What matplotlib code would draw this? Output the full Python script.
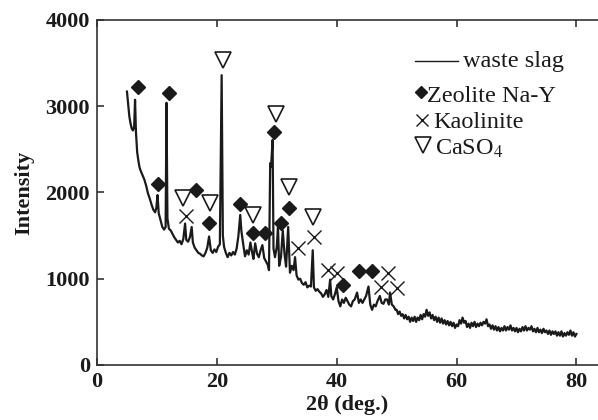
import matplotlib
matplotlib.use("Agg")
import matplotlib.pyplot as plt

plt.rcParams["font.family"] = ["Liberation Serif", "DejaVu Serif"]
plt.rcParams["mathtext.fontset"] = "stix"

# waste slag XRD trace (2theta, intensity)
theta_head = [5.0, 5.2, 5.4, 5.6, 5.8, 6.0, 6.2, 6.35, 6.5, 6.7, 6.9, 7.1, 7.3, 7.6, 7.9,
              8.2, 8.5, 8.8, 9.1, 9.4, 9.7, 9.9, 10.1, 10.3, 10.6, 10.9, 11.2, 11.45, 11.6,
              11.75, 12.0, 12.3, 12.6, 12.9, 13.2, 13.5, 13.8, 14.1, 14.4, 14.7, 14.9, 15.2,
              15.5, 15.8, 16.0, 16.3, 16.6, 16.9, 17.2, 17.5, 17.8, 18.1, 18.4, 18.7, 19.0,
              19.3, 19.6, 19.9, 20.2, 20.5, 20.8, 21.0, 21.2, 21.5, 21.8, 22.1, 22.4, 22.7,
              23.0, 23.3, 23.6, 23.9, 24.1, 24.4, 24.7, 25.0, 25.3, 25.6, 25.9, 26.1, 26.4,
              26.7, 27.0, 27.3, 27.6, 27.9, 28.2, 28.5, 28.7, 28.9, 29.05, 29.3, 29.45, 29.7,
              30.0, 30.2, 30.4, 30.7, 31.0, 31.3, 31.55, 31.9, 32.2, 32.5, 32.8, 33.05, 33.3,
              33.6, 33.9, 34.2, 34.5, 34.8, 35.1, 35.4, 35.7, 36.0, 36.2, 36.5, 36.8, 37.1,
              37.4, 37.7, 38.0, 38.3, 38.6, 38.9, 39.1, 39.4, 39.7, 40.0, 40.3, 40.6, 40.9,
              41.2, 41.5, 41.8, 42.1, 42.4, 42.7, 43.0, 43.4, 43.7, 44.0, 44.3, 44.6, 44.9,
              45.3, 45.6, 45.9, 46.2, 46.5, 46.8, 47.2, 47.5, 47.8, 48.1, 48.4, 48.7, 48.9,
              49.2, 49.5, 49.8]
counts_head = [3170, 3020, 2880, 2800, 2740, 2720, 2760, 3075, 2700, 2470, 2370, 2290, 2250, 2200, 2150,
               2080, 1990, 1930, 1860, 1800, 1770, 1820, 1970, 1760, 1680, 1600, 1570, 1600, 3040,
               1700, 1580, 1560, 1520, 1480, 1450, 1420, 1440, 1400, 1460, 1640, 1450, 1430,
               1480, 1600, 1420, 1360, 1330, 1300, 1290, 1270, 1260, 1300, 1360, 1490, 1330,
               1300, 1340, 1310, 1370, 1400, 3360, 1500, 1370, 1300, 1250, 1300, 1270, 1310,
               1280, 1350, 1500, 1740, 1550, 1400, 1260, 1330, 1280, 1420, 1300, 1230, 1410,
               1290, 1250, 1330, 1390, 1240, 1200, 1160, 1100, 2340, 2300, 2610, 1350, 1250,
               1370, 1600, 1150, 1250, 1560, 1280, 1140, 1600, 1070, 1150, 1100, 1250, 1040,
               990, 1000, 950, 930, 960, 900, 920, 910, 1330, 900, 860, 880, 850,
               830, 790, 820, 870, 790, 990, 800, 760, 820, 900, 740, 680, 760,
               720, 780, 740, 700, 680, 740, 760, 840, 720, 760, 720, 760, 800,
               910, 700, 640, 700, 680, 740, 800, 720, 710, 760, 760, 700, 840,
               700, 680, 640]

theta_tail = [50.0, 50.25, 50.5, 50.75, 51.0, 51.25, 51.5, 51.75, 52.0, 52.25, 52.5, 52.75,
              53.0, 53.25, 53.5, 53.75, 54.0, 54.25, 54.5, 54.75, 55.0, 55.25, 55.5, 55.75,
              56.0, 56.25, 56.5, 56.75, 57.0, 57.25, 57.5, 57.75, 58.0, 58.25, 58.5, 58.75,
              59.0, 59.25, 59.5, 59.75, 60.0, 60.25, 60.5, 60.75, 61.0, 61.25, 61.5, 61.75,
              62.0, 62.25, 62.5, 62.75, 63.0, 63.25, 63.5, 63.75, 64.0, 64.25, 64.5, 64.75,
              65.0, 65.25, 65.5, 65.75, 66.0, 66.25, 66.5, 66.75, 67.0, 67.25, 67.5, 67.75,
              68.0, 68.25, 68.5, 68.75, 69.0, 69.25, 69.5, 69.75, 70.0, 70.25, 70.5, 70.75,
              71.0, 71.25, 71.5, 71.75, 72.0, 72.25, 72.5, 72.75, 73.0, 73.25, 73.5, 73.75,
              74.0, 74.25, 74.5, 74.75, 75.0, 75.25, 75.5, 75.75, 76.0, 76.25, 76.5, 76.75,
              77.0, 77.25, 77.5, 77.75, 78.0, 78.25, 78.5, 78.75, 79.0, 79.25, 79.5, 79.75, 80.0]
counts_tail = [640, 590, 620, 570, 590, 540, 580, 530, 560, 500, 550, 510,
               560, 500, 550, 520, 580, 530, 590, 560, 640, 570, 610, 540,
               580, 520, 560, 500, 550, 490, 540, 480, 520, 470, 510, 460,
               500, 450, 490, 430, 470, 450, 520, 480, 550, 490, 510, 440,
               480, 430, 490, 450, 500, 440, 480, 450, 490, 460, 500, 480,
               530, 450, 470, 420, 460, 410, 450, 400, 440, 390, 430, 400,
               450, 400, 440, 410, 460, 400, 430, 390, 430, 380, 420, 390,
               440, 400, 450, 400, 430, 410, 450, 390, 420, 380, 430, 380,
               410, 370, 420, 380, 400, 360, 400, 350, 390, 360, 390, 340,
               380, 340, 390, 330, 370, 340, 380, 350, 400, 340, 380, 330, 360]

# phase markers
zeolite_x = [6.9, 10.1, 12.0, 16.5, 18.7, 23.9, 26.0, 28.1, 29.5, 30.7, 32.1, 41.1, 43.8, 45.9]
zeolite_y = [3220, 2095, 3150, 2029, 1650, 1867, 1534, 1534, 2705, 1650, 1817, 927, 1093, 1093]
kaolinite_x = [14.9, 33.6, 36.2, 38.6, 40.0, 47.4, 48.5, 50.0]
kaolinite_y = [1727, 1353, 1488, 1101, 1063, 908, 1063, 889]
caso4_x = [14.4, 18.9, 21.0, 26.0, 29.9, 32.1, 36.1]
caso4_y = [1933, 1880, 3540, 1739, 2910, 2067, 1720]

xticks = [0, 20, 40, 60, 80]
yticks = [0, 1000, 2000, 3000, 4000]

ink = "#1a1a1a"

fig = plt.figure(figsize=(5.98, 4.2), dpi=100)
ax = fig.add_axes([97 / 598, 55 / 420, 501 / 598, 345 / 420])

ax.plot(theta_head + theta_tail, counts_head + counts_tail, color=ink, lw=1.6)

ax.plot(zeolite_x, zeolite_y, ls="none", marker="D", ms=7, color=ink)
ax.plot(kaolinite_x, kaolinite_y, ls="none", marker="x", ms=10, mew=1.0, color=ink)
ax.plot(caso4_x, caso4_y, ls="none", marker="v", ms=12, mfc="white", mew=1.2, mec=ink)

ax.set_xlim(0, 83.6)
ax.set_ylim(0, 4000)
ax.set_xticks(xticks)
ax.set_yticks(yticks)

for side in ["left", "bottom", "top"]:
    ax.spines[side].set_linewidth(1.2)
    ax.spines[side].set_color("#333333")
ax.spines["right"].set_visible(False)

ax.tick_params(direction="in", length=5, width=1.2, top=True, right=False,
               labelsize=16, colors="#333333", labelcolor=ink)
ax.tick_params(axis="x", pad=5)
ax.tick_params(axis="y", pad=5)
for lab in ax.get_xticklabels() + ax.get_yticklabels():
    lab.set_fontweight("bold")

ax.set_xlabel("2θ (deg.)", fontsize=16, fontweight="bold", color=ink, labelpad=2)
ax.set_ylabel("Intensity", fontsize=16, fontweight="bold", color=ink, labelpad=8)

# hand-made legend
tr = ax.transAxes
ax.plot([0.635, 0.721], [0.882, 0.882], color=ink, lw=1.0, transform=tr, clip_on=False)
ax.text(0.7305, 0.8646, "waste slag", fontsize=17.5, color=ink, va="baseline", transform=tr)
ax.plot([0.646], [0.792], marker="D", ms=6.5, color=ink, transform=tr, clip_on=False)
ax.text(0.6587, 0.7632, "Zeolite Na-Y", fontsize=17.5, color=ink, va="baseline", transform=tr)
ax.plot([0.648], [0.710], marker="x", ms=9, mew=1.0, color=ink, transform=tr, clip_on=False)
ax.text(0.6707, 0.687, "Kaolinite", fontsize=17.5, color=ink, va="baseline", transform=tr)
ax.plot([0.6507], [0.6377], marker="v", ms=11, mfc="white", mew=1.2, mec=ink,
        transform=tr, clip_on=False)
ax.text(0.6746, 0.6087, "CaSO$_4$", fontsize=17.5, color=ink, va="baseline", transform=tr)

fig.savefig("out.png", dpi=100)
